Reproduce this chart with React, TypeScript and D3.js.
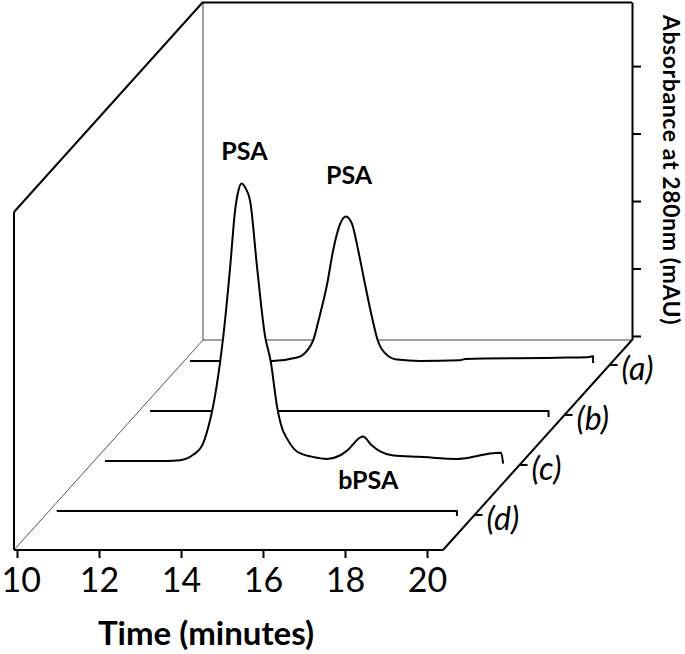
import React, { useEffect, useRef } from 'react';
import * as d3 from 'd3';

// series (back to front) and axis ticks
const seriesNames = ['(a)', '(b)', '(c)', '(d)'];
const timeTicks = [10, 12, 14, 16, 18, 20];
const absTicks = [0, 1, 2, 3, 4];

// trace (a): PSA standard
const timeA = [10.16, 12.16, 12.77, 13.01, 13.16, 13.33, 13.5, 13.65, 13.82, 13.96, 14.11, 14.26, 14.43, 14.6, 14.74, 14.96, 15.21, 15.77, 16.74, 16.87, 19.35, 19.91, 19.99, 19.99];
const valueA = [0, 0, 0.05, 0.15, 0.3, 0.69, 1.13, 1.64, 2.03, 2.14, 2.03, 1.64, 1.13, 0.64, 0.3, 0.09, 0.02, 0, 0.01, 0.03, 0.05, 0.06, 0.07, -0.03];

// trace (b): flat
const timeB = [10.28, 20.0, 20.0];
const valueB = [0, 0, -0.09];

// trace (c): PSA + bPSA
const timeC = [10.28, 11.79, 12.11, 12.43, 12.65, 12.79, 12.91, 13.09, 13.16, 13.33, 13.45, 13.52, 13.61, 13.7, 13.82, 13.99, 14.18, 14.32, 14.48, 14.6, 14.72, 14.96, 15.35, 15.69, 16.01, 16.18, 16.57, 16.77, 16.99, 17.31, 17.96, 18.87, 19.26, 19.67, 19.94, 19.99];
const valueC = [0, 0, 0.01, 0.09, 0.23, 0.48, 0.79, 1.48, 1.82, 2.86, 3.7, 3.97, 4.11, 4.05, 3.85, 2.86, 1.86, 1.48, 0.79, 0.48, 0.33, 0.14, 0.06, 0.03, 0.08, 0.15, 0.36, 0.24, 0.14, 0.08, 0.06, 0.03, 0.06, 0.11, 0.12, -0.04];

// trace (d): flat
const timeD = [10.2, 19.96, 19.96];
const valueD = [0, 0, -0.075];

// peak annotations, in data units of their series
const noteText = ['PSA', 'PSA', 'bPSA'];
const noteSeries = ['(c)', '(a)', '(c)'];
const noteTime = [13.68, 14.04, 16.7];
const noteValue = [4.46, 2.62, -0.41];

const FONT = 'Lato, "Open Sans", sans-serif';

const App = () => {
  const ref = useRef<SVGSVGElement>(null);

  useEffect(() => {
    draw();
  }, []);

  const draw = () => {
    const svg = d3.select(ref.current);
    svg.selectAll('*').remove();

    // box geometry
    const frontY = 550;
    const backY = 340;
    const topY = 2;
    const frontLeft = 14;
    const frontRight = 443;
    const depthDx = 189;
    const depthDy = -210;

    const x = d3.scaleLinear().domain([10, 20]).range([17, 427]);
    const y = d3.scaleLinear().domain([-0.06, 4.95]).range([backY, topY]);
    const depth = d3.scalePoint<string>().domain([...seriesNames].reverse()).range([0.167, 0.881]);

    const px = (t: number, f: number) => x(t) + f * depthDx;
    const py = (v: number, f: number) => frontY + f * depthDy - (backY - y(v));

    const line = (x1: number, y1: number, x2: number, y2: number, w: number, c = '#000') =>
      svg.append('line')
        .attr('x1', x1).attr('y1', y1).attr('x2', x2).attr('y2', y2)
        .attr('stroke', c).attr('stroke-width', w);

    const backLeft = frontLeft + depthDx;
    const backRight = frontRight + depthDx;

    // back wall
    line(backLeft, topY, backLeft, backY, 1, '#444');
    line(backLeft, backY, backRight, backY, 1, '#444');
    line(backLeft, topY + 0.5, backRight, topY + 0.5, 2);
    // left wall
    line(frontLeft, frontY, frontLeft, frontY - (backY - topY), 2);
    line(frontLeft, frontY - (backY - topY), backLeft, topY, 2);
    // floor
    line(frontLeft, frontY, backLeft, backY, 1, '#555');
    line(frontRight, frontY, backRight, backY, 2);
    line(frontLeft, frontY, frontRight, frontY, 2);

    // right absorbance axis
    const yAxis = svg.append('g')
      .attr('transform', `translate(${backRight},0)`)
      .call(d3.axisRight(y).tickValues(absTicks).tickSize(9).tickSizeOuter(0).tickFormat(() => ''));
    yAxis.select('.domain').attr('stroke-width', 2);
    yAxis.selectAll('.tick line').attr('stroke-width', 2);

    // bottom time axis
    const xAxis = svg.append('g')
      .attr('transform', `translate(0,${frontY})`)
      .call(d3.axisBottom(x).tickValues(timeTicks).tickSize(8).tickPadding(10).tickFormat(d3.format('d')));
    xAxis.select('.domain').remove();
    xAxis.selectAll('.tick line').attr('stroke-width', 2);
    xAxis.selectAll('.tick text')
      .attr('font-family', FONT)
      .attr('font-size', 34)
      .attr('fill', '#000');
    // first label sits flush with the left edge, as in the figure
    xAxis.selectAll<SVGTextElement, number>('.tick text')
      .filter((d) => d === timeTicks[0])
      .attr('text-anchor', 'start')
      .attr('x', -x(timeTicks[0]) + 1);

    // traces, back to front, white filled so nearer peaks hide what is behind
    const series = [
      { name: '(a)', times: timeA, values: valueA },
      { name: '(b)', times: timeB, values: valueB },
      { name: '(c)', times: timeC, values: valueC },
      { name: '(d)', times: timeD, values: valueD },
    ];
    const curve = d3.curveMonotoneX;

    series.forEach((s) => {
      const f = depth(s.name) as number;
      const pts: [number, number][] = s.times.map((t, i) => [t, s.values[i]]);
      const area = d3.area<[number, number]>()
        .x((d) => px(d[0], f))
        .y0(py(0, f))
        .y1((d) => py(d[1], f))
        .curve(curve);
      const path = d3.line<[number, number]>()
        .x((d) => px(d[0], f))
        .y((d) => py(d[1], f))
        .curve(curve);
      svg.append('path').attr('d', area(pts)).attr('fill', '#fff').attr('stroke', 'none');
      svg.append('path')
        .attr('d', path(pts))
        .attr('fill', 'none')
        .attr('stroke', '#000')
        .attr('stroke-width', 2)
        .attr('stroke-linejoin', 'round');
    });

    // series labels along the right floor edge
    seriesNames.forEach((name) => {
      const f = depth(name) as number;
      const cx = frontRight + f * depthDx;
      const cy = frontY + f * depthDy;
      line(cx, cy, cx + 8, cy, 2);
      svg.append('text')
        .attr('x', cx + 12)
        .attr('y', cy + 15)
        .attr('font-family', FONT)
        .attr('font-style', 'italic')
        .attr('font-size', 32)
        .text(name);
    });

    // peak annotations
    noteText.forEach((txt, i) => {
      const f = depth(noteSeries[i]) as number;
      svg.append('text')
        .attr('x', px(noteTime[i], f))
        .attr('y', py(noteValue[i], f))
        .attr('text-anchor', 'middle')
        .attr('font-family', FONT)
        .attr('font-weight', 'bold')
        .attr('font-size', 25)
        .text(txt);
    });

    // axis titles
    svg.append('text')
      .attr('x', 206)
      .attr('y', 645)
      .attr('text-anchor', 'middle')
      .attr('font-family', FONT)
      .attr('font-weight', 'bold')
      .attr('font-size', 33)
      .text('Time (minutes)');

    svg.append('text')
      .attr('transform', `translate(663,170) rotate(90)`)
      .attr('text-anchor', 'middle')
      .attr('font-family', FONT)
      .attr('font-weight', 'bold')
      .attr('font-size', 23)
      .attr('letter-spacing', 0.6)
      .text('Absorbance at 280nm (mAU)');
  };

  return (
    <svg
      ref={ref}
      width={685}
      height={654}
      style={{ position: 'absolute', left: 0, top: 0, background: '#fff' }}
    />
  );
};

export default App;
